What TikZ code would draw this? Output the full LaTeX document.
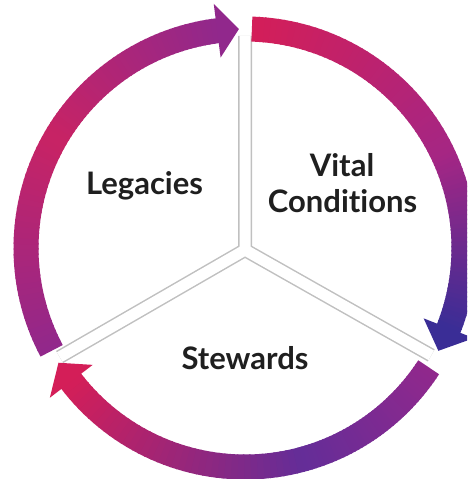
\documentclass[tikz,border=0pt]{standalone}
\usepackage{fontspec}
\setsansfont{Lato}[Ligatures=NoCommon]
\definecolor{crimson}{RGB}{212,30,88}
\definecolor{rose}{RGB}{200,35,100}
\definecolor{orchid}{RGB}{165,38,132}
\definecolor{plum}{RGB}{145,40,140}
\definecolor{violet}{RGB}{100,45,152}
\definecolor{indigo}{RGB}{58,45,150}
\definecolor{divgray}{RGB}{192,192,192}

\newcommand{\ringpart}[4]{%
    \foreach \k in {1,...,40}{%
        \pgfmathsetmacro{\ta}{(#1)+((#2)-(#1))*(\k-1)/40}%
        \pgfmathsetmacro{\tb}{(#1)+((#2)-(#1))*\k/40-0.4}%
        \pgfmathsetmacro{\mx}{100-100*(\k-0.5)/40}%
        \draw[ring, draw=#3!\mx!#4] (\ta:219) arc[start angle=\ta, end angle=\tb, radius=219];
    }%
}

\begin{document}
\begin{tikzpicture}[x=1pt, y=1pt, ring/.style={line width=25pt, line cap=butt}, divline/.style={draw=divgray, line width=14pt, line cap=butt}, divfill/.style={draw=white, line width=11pt, line cap=butt}, label/.style={font=\sffamily\bfseries\fontsize{31}{38}\selectfont, text=black!88, anchor=base, inner sep=0pt}]
    \useasboundingbox (0,0) rectangle (467,479);
    \clip (0,0) rectangle (467,479);
    \fill[white] (0,0) rectangle (467,479);
    \coordinate (hub) at (245,231);
    \coordinate (fork) at (245,229);

    % dividers
    \coordinate (top) at ([shift={(fork)}]90:214);
    \coordinate (left) at ([shift={(fork)}]210:214);
    \coordinate (right) at ([shift={(fork)}]-29.5:214);
    \draw[divline] (fork) -- (top) (fork) -- (left) (fork) -- (right);
    \draw[divfill] (fork) -- (top) (fork) -- (left) (fork) -- (right);

    \begin{scope}[shift={(hub)}]
        % vital conditions
        \ringpart{88.2}{25}{crimson}{orchid}
        \ringpart{25}{-21.5}{orchid}{indigo}
        \fill[indigo] (-28:219) -- (-21.5:246) -- (-21.5:192) -- cycle;
        % stewards
        \ringpart{-33}{-75}{plum}{violet}
        \ringpart{-75}{-142.5}{violet}{crimson}
        \fill[crimson] (-148.4:219) -- (-142.5:246) -- (-142.5:192) -- cycle;
        % legacies
        \ringpart{208}{150}{plum}{rose}
        \ringpart{150}{97.3}{rose}{plum}
        \fill[plum] (91.6:219) -- (97.3:246) -- (97.3:192) -- cycle;
    \end{scope}

    \node[label] (legacies) at (144.5,284) {Legacies};
    \node[label] (vital) at (342,302) {Vital};
    \node[label] (conditions) at (342.5,266) {Conditions};
    \node[label] (stewards) at (245,109) {Stewards};
\end{tikzpicture}
\end{document}
